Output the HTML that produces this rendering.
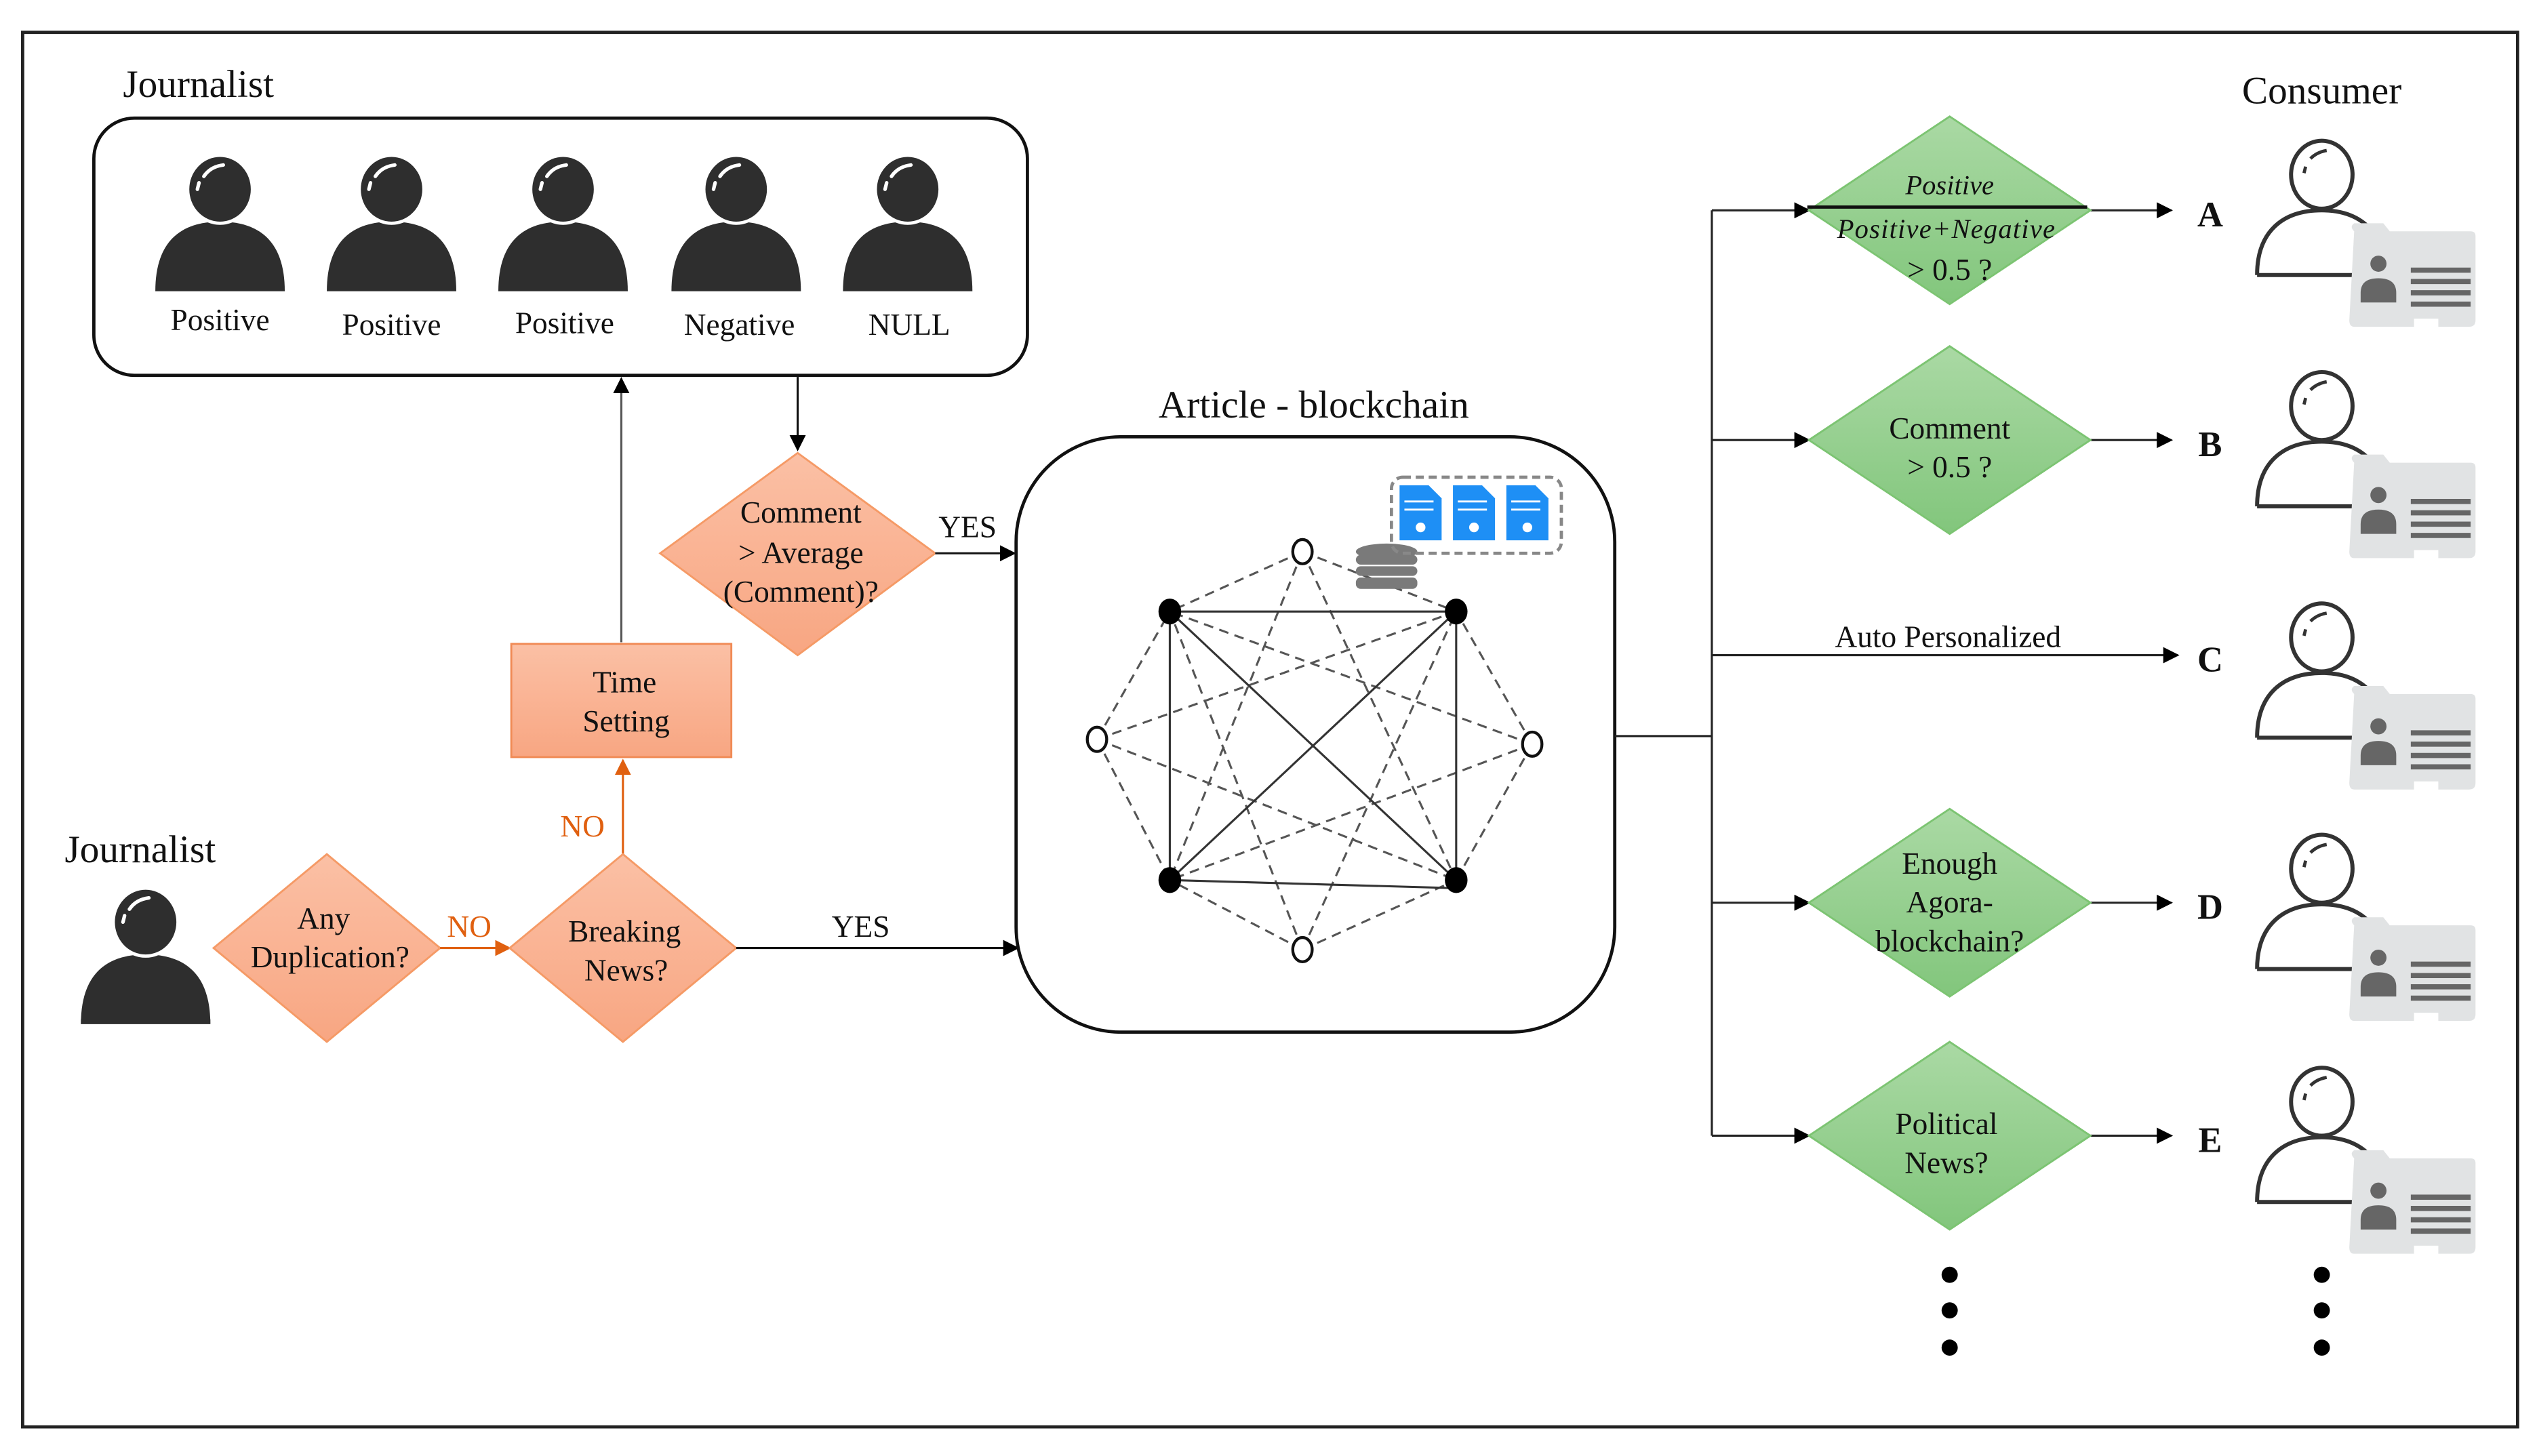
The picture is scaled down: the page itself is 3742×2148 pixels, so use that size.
<!DOCTYPE html>
<html><head><meta charset="utf-8"><style>
html,body{margin:0;padding:0;background:#fff;}
svg{display:block;}
text{font-family:"Liberation Serif",serif;fill:#111;}
</style></head><body>
<svg width="3742" height="2148" viewBox="0 0 1568 900" preserveAspectRatio="none" xmlns="http://www.w3.org/2000/svg">
<defs>
<linearGradient id="og" x1="0" y1="0" x2="0" y2="1"><stop offset="0" stop-color="#FBC0A5"/><stop offset="1" stop-color="#F8A682"/></linearGradient>
<linearGradient id="gg" x1="0" y1="0" x2="0" y2="1"><stop offset="0" stop-color="#AAD9A4"/><stop offset="1" stop-color="#82C67C"/></linearGradient>
<marker id="ab" markerWidth="10" markerHeight="10" refX="9" refY="5" orient="auto" markerUnits="userSpaceOnUse"><path d="M0,0 L10,5 L0,10 Z" fill="#000"/></marker>
<marker id="ao" markerWidth="10" markerHeight="10" refX="9" refY="5" orient="auto" markerUnits="userSpaceOnUse"><path d="M0,0 L10,5 L0,10 Z" fill="#E06010"/></marker>
<g id="bp">
<path d="M-40,63 C-40,30 -22,20 0,20 C22,20 40,30 40,63 Z" fill="#2e2e2e"/>
<ellipse cx="0" cy="0" rx="20" ry="21" fill="#2e2e2e" stroke="#fff" stroke-width="2"/>
<path d="M-10,-8 Q-6,-14 2,-15" stroke="#fff" stroke-width="2.2" fill="none" stroke-linecap="round"/>
<path d="M-13,-4 L-14,0" stroke="#fff" stroke-width="2.2" stroke-linecap="round"/>
</g>
<g id="cp">
<path d="M-40,62 C-40,35 -24,22 0,22 C16,22 26,28 32,36" fill="none" stroke="#333" stroke-width="2.5"/>
<line x1="-40" y1="62" x2="20" y2="62" stroke="#333" stroke-width="2.5"/>
<ellipse cx="0" cy="0" rx="19" ry="21" fill="#fff" stroke="#333" stroke-width="2.5"/>
<path d="M-7,-10 Q-3,-14 3,-15" stroke="#333" stroke-width="2" fill="none"/>
<path d="M-10,-5 L-11,-1" stroke="#333" stroke-width="2"/>
<path d="M20,35 Q17,32 20,30 L38,30 L42,35 L92,35 Q95,35 95,38 L95,90 Q95,94 91,94 L72,94 L72,89 L57,89 L57,94 L20,94 Q17,94 17,90 Z" fill="#E1E3E4"/>
<circle cx="35" cy="55" r="5" fill="#666"/>
<path d="M24,79 L24,73 Q24,64 35,64 Q46,64 46,73 L46,79 Z" fill="#666"/>
<g stroke="#666" stroke-width="3.2"><line x1="55" y1="59" x2="92" y2="59"/><line x1="55" y1="66" x2="92" y2="66"/><line x1="55" y1="73" x2="92" y2="73"/><line x1="55" y1="80" x2="92" y2="80"/></g>
</g>
</defs>

<rect x="14" y="20" width="1542" height="862" fill="none" stroke="#222" stroke-width="2"/>

<!-- Top journalist box -->
<text x="76" y="60" font-size="24">Journalist</text>
<rect x="58" y="73" width="577" height="159" rx="25" fill="none" stroke="#111" stroke-width="2"/>
<use href="#bp" x="136" y="117"/><use href="#bp" x="242" y="117"/><use href="#bp" x="348" y="117"/><use href="#bp" x="455" y="117"/><use href="#bp" x="561" y="117"/>
<g font-size="19" text-anchor="middle">
<text x="136" y="204">Positive</text><text x="242" y="207">Positive</text><text x="349" y="206">Positive</text><text x="457" y="207">Negative</text><text x="562" y="207">NULL</text>
</g>

<!-- connectors top -->
<line x1="493" y1="233" x2="493" y2="278" stroke="#111" stroke-width="1.3" marker-end="url(#ab)"/>
<line x1="384" y1="397" x2="384" y2="234" stroke="#555" stroke-width="1.3" marker-end="url(#ab)"/>

<!-- Comment diamond -->
<polygon points="493,280 578,342 493,405 408,342" fill="url(#og)" stroke="#F59A66" stroke-width="1.2"/>
<g font-size="19" text-anchor="middle"><text x="495" y="323">Comment</text><text x="495" y="348">&gt; Average</text><text x="495" y="372">(Comment)?</text></g>
<text x="598" y="332" font-size="19" text-anchor="middle">YES</text>
<line x1="578" y1="342" x2="627" y2="342" stroke="#111" stroke-width="1.3" marker-end="url(#ab)"/>

<!-- Time Setting -->
<rect x="316" y="398" width="136" height="70" fill="url(#og)" stroke="#F08A55" stroke-width="1.2"/>
<g font-size="19" text-anchor="middle"><text x="386" y="428">Time</text><text x="387" y="452">Setting</text></g>
<text x="360" y="517" font-size="19" text-anchor="middle" style="fill:#E06010">NO</text>
<line x1="385" y1="528" x2="385" y2="470" stroke="#E06010" stroke-width="1.3" marker-end="url(#ao)"/>

<!-- Bottom journalist -->
<text x="40" y="533" font-size="24">Journalist</text>
<use href="#bp" x="90" y="570"/>
<rect x="50" y="630" width="80" height="3" fill="#2e2e2e"/>
<polygon points="202,528 272,586 202,644 132,586" fill="url(#og)" stroke="#F59A66" stroke-width="1.2"/>
<g font-size="19" text-anchor="middle"><text x="200" y="574">Any</text><text x="204" y="598">Duplication?</text></g>
<text x="290" y="579" font-size="19" text-anchor="middle" style="fill:#E06010">NO</text>
<line x1="272" y1="586" x2="315" y2="586" stroke="#E06010" stroke-width="1.3" marker-end="url(#ao)"/>
<polygon points="385,528 455,586 385,644 315,586" fill="url(#og)" stroke="#F59A66" stroke-width="1.2"/>
<g font-size="19" text-anchor="middle"><text x="386" y="582">Breaking</text><text x="387" y="606">News?</text></g>
<text x="532" y="579" font-size="19" text-anchor="middle">YES</text>
<line x1="455" y1="586" x2="629" y2="586" stroke="#111" stroke-width="1.3" marker-end="url(#ab)"/>

<!-- Blockchain -->
<text x="812" y="258" font-size="24" text-anchor="middle">Article - blockchain</text>
<rect x="628" y="270" width="370" height="368" rx="65" fill="none" stroke="#111" stroke-width="2"/>
<g stroke="#555" stroke-width="1.3" stroke-dasharray="6,4" fill="none">
<line x1="805" y1="341" x2="723" y2="378"/><line x1="805" y1="341" x2="900" y2="378"/><line x1="805" y1="341" x2="723" y2="544"/><line x1="805" y1="341" x2="900" y2="544"/>
<line x1="678" y1="457" x2="723" y2="378"/><line x1="678" y1="457" x2="900" y2="378"/><line x1="678" y1="457" x2="723" y2="544"/><line x1="678" y1="457" x2="900" y2="544"/>
<line x1="947" y1="460" x2="723" y2="378"/><line x1="947" y1="460" x2="900" y2="378"/><line x1="947" y1="460" x2="723" y2="544"/><line x1="947" y1="460" x2="900" y2="544"/>
<line x1="805" y1="587" x2="723" y2="378"/><line x1="805" y1="587" x2="900" y2="378"/><line x1="805" y1="587" x2="723" y2="544"/><line x1="805" y1="587" x2="900" y2="544"/>
</g>
<g stroke="#333" stroke-width="1.3">
<line x1="723" y1="378" x2="900" y2="378"/><line x1="723" y1="378" x2="723" y2="544"/><line x1="900" y1="378" x2="900" y2="544"/><line x1="723" y1="544" x2="900" y2="549"/>
<line x1="723" y1="378" x2="900" y2="544"/><line x1="900" y1="378" x2="723" y2="544"/>
</g>
<g fill="#000"><ellipse cx="723" cy="378" rx="7" ry="8"/><ellipse cx="900" cy="378" rx="7" ry="8"/><ellipse cx="723" cy="544" rx="7" ry="8"/><ellipse cx="900" cy="544" rx="7" ry="8"/></g>
<g fill="#fff" stroke="#111" stroke-width="1.8"><ellipse cx="805" cy="341" rx="6" ry="7.5"/><ellipse cx="678" cy="457" rx="6" ry="7.5"/><ellipse cx="947" cy="460" rx="6" ry="7.5"/><ellipse cx="805" cy="587" rx="6" ry="7.5"/></g>
<!-- db -->
<g fill="#7a7a7a"><ellipse cx="857" cy="341" rx="19" ry="5"/><rect x="838" y="343" width="38" height="6" rx="3"/><rect x="838" y="350" width="38" height="6" rx="3"/><rect x="838" y="357" width="38" height="7" rx="3"/></g>
<rect x="860" y="295" width="105" height="47" rx="7" fill="none" stroke="#888" stroke-width="2" stroke-dasharray="5,3"/>
<g fill="#1E8FF5">
<path d="M865,300 h18 l8,8 v26 h-26 Z"/><path d="M898,300 h18 l8,8 v26 h-26 Z"/><path d="M931,300 h18 l8,8 v26 h-26 Z"/>
</g>
<g stroke="#fff" stroke-width="1.2"><line x1="868" y1="310" x2="886" y2="310"/><line x1="868" y1="315" x2="886" y2="315"/><line x1="901" y1="310" x2="919" y2="310"/><line x1="901" y1="315" x2="919" y2="315"/><line x1="934" y1="310" x2="952" y2="310"/><line x1="934" y1="315" x2="952" y2="315"/></g>
<g fill="#fff"><circle cx="878" cy="326" r="3"/><circle cx="911" cy="326" r="3"/><circle cx="944" cy="326" r="3"/></g>

<!-- right connectors -->
<g stroke="#222" stroke-width="1.3" fill="none">
<line x1="998" y1="455" x2="1058" y2="455"/>
<line x1="1058" y1="130" x2="1058" y2="702"/>
</g>
<g stroke="#222" stroke-width="1.3">
<line x1="1058" y1="130" x2="1118" y2="130" marker-end="url(#ab)"/>
<line x1="1058" y1="272" x2="1118" y2="272" marker-end="url(#ab)"/>
<line x1="1058" y1="405" x2="1346" y2="405" marker-end="url(#ab)"/>
<line x1="1058" y1="558" x2="1118" y2="558" marker-end="url(#ab)"/>
<line x1="1058" y1="702" x2="1118" y2="702" marker-end="url(#ab)"/>
<line x1="1292" y1="130" x2="1342" y2="130" marker-end="url(#ab)"/>
<line x1="1292" y1="272" x2="1342" y2="272" marker-end="url(#ab)"/>
<line x1="1292" y1="558" x2="1342" y2="558" marker-end="url(#ab)"/>
<line x1="1292" y1="702" x2="1342" y2="702" marker-end="url(#ab)"/>
</g>
<text x="1204" y="400" font-size="19" text-anchor="middle">Auto Personalized</text>

<g stroke="#7CC472" stroke-width="1.2" fill="url(#gg)">
<polygon points="1205,72 1292,130 1205,188 1118,130"/>
<polygon points="1205,214 1292,272 1205,330 1118,272"/>
<polygon points="1205,500 1292,558 1205,616 1118,558"/>
<polygon points="1205,644 1292,702 1205,760 1118,702"/>
</g>
<line x1="1117" y1="128" x2="1290" y2="128" stroke="#111" stroke-width="2"/>
<g font-size="17" text-anchor="middle" font-style="italic"><text x="1205" y="120">Positive</text><text x="1203" y="147" letter-spacing="0.5">Positive+Negative</text></g>
<g font-size="19" text-anchor="middle">
<text x="1205" y="173">&gt; 0.5 ?</text>
<text x="1205" y="271">Comment</text><text x="1205" y="295">&gt; 0.5 ?</text>
<text x="1205" y="540">Enough</text><text x="1205" y="564">Agora-</text><text x="1205" y="588">blockchain?</text>
<text x="1203" y="701">Political</text><text x="1203" y="725">News?</text>
</g>
<g font-size="22" font-weight="bold" text-anchor="middle">
<text x="1366" y="140">A</text><text x="1366" y="282">B</text><text x="1366" y="415">C</text><text x="1366" y="568">D</text><text x="1366" y="712">E</text>
</g>

<text x="1435" y="64" font-size="24" text-anchor="middle">Consumer</text>
<use href="#cp" x="1435" y="108"/><use href="#cp" x="1435" y="251"/><use href="#cp" x="1435" y="394"/><use href="#cp" x="1435" y="537"/><use href="#cp" x="1435" y="681"/>

<g fill="#000">
<circle cx="1205" cy="788" r="5"/><circle cx="1205" cy="810" r="5"/><circle cx="1205" cy="833" r="5"/>
<circle cx="1435" cy="788" r="5"/><circle cx="1435" cy="810" r="5"/><circle cx="1435" cy="833" r="5"/>
</g>
</svg>
</body></html>
